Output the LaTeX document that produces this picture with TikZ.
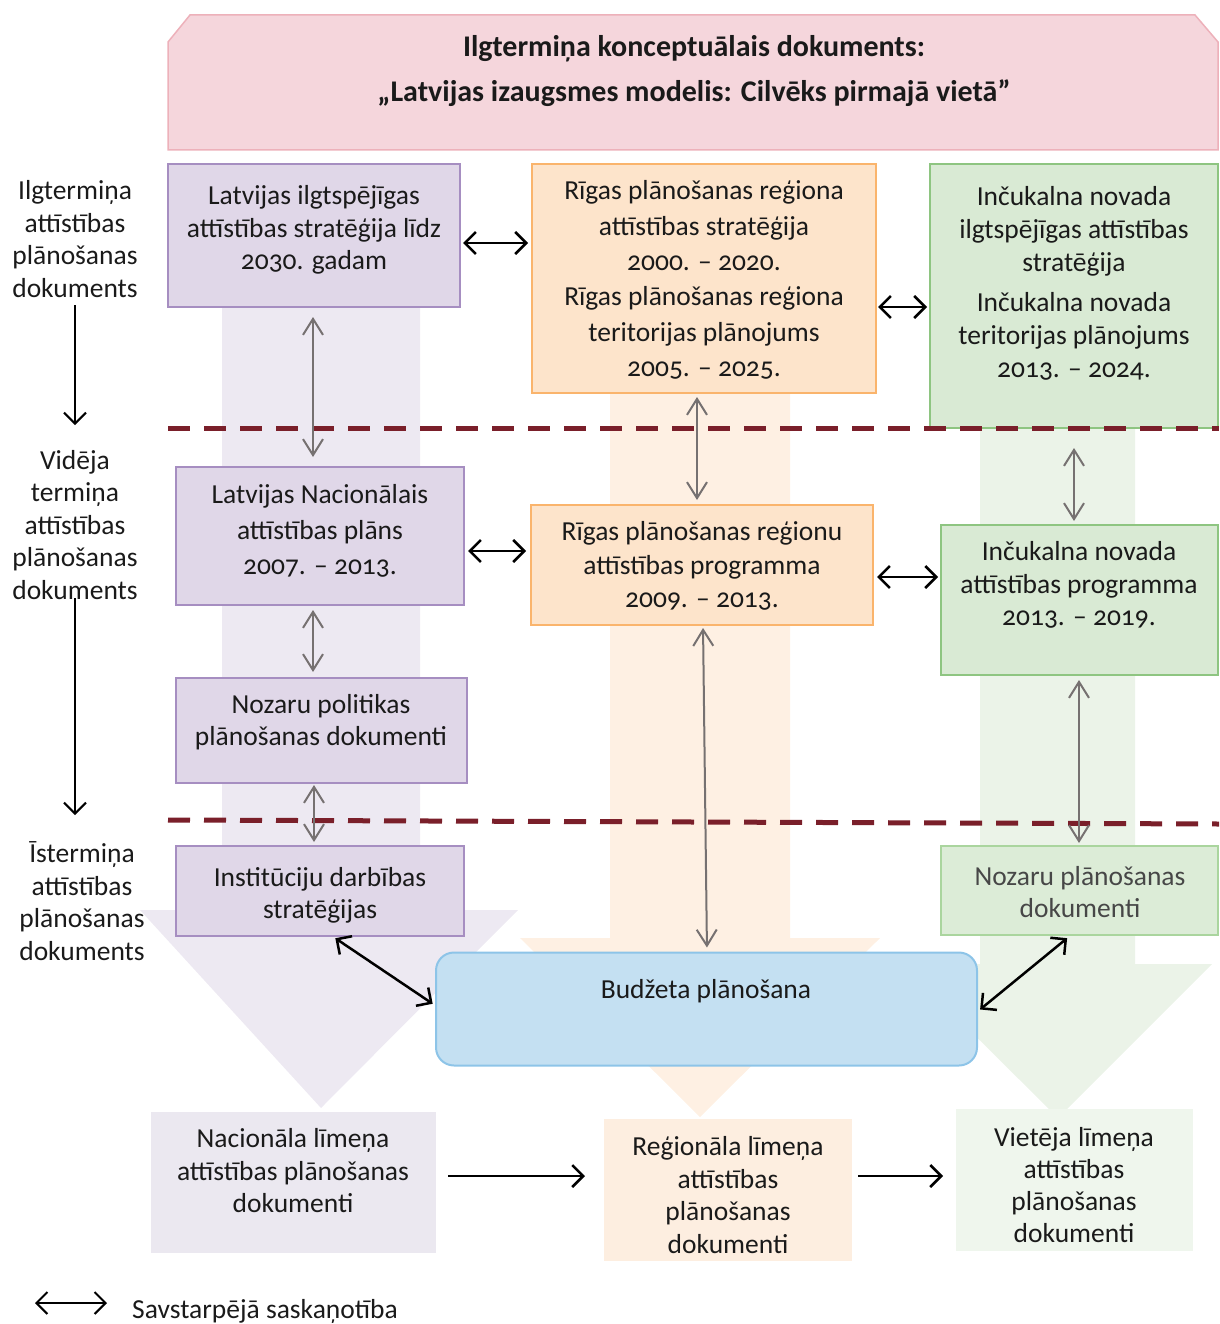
\documentclass[tikz,border=0pt]{standalone}
\usepackage{fontspec}
\setmainfont{Carlito}[Numbers=OldStyle]
\usetikzlibrary{arrows.meta}
\definecolor{pfill}{HTML}{E0D7E8}
\definecolor{pline}{HTML}{A68EC1}
\definecolor{ofill}{HTML}{FDE4CB}
\definecolor{oline}{HTML}{FAB46C}
\definecolor{gfill}{HTML}{D9EAD4}
\definecolor{gline}{HTML}{8EC581}
\definecolor{g3fill}{HTML}{DCECD7}
\definecolor{g3line}{HTML}{AAD59E}
\definecolor{tfill}{HTML}{F5D6DC}
\definecolor{tline}{HTML}{EDB1BA}
\definecolor{bfill}{HTML}{C4E0F2}
\definecolor{bline}{HTML}{8DC4E8}
\definecolor{parrow}{HTML}{EDE9F2}
\definecolor{oarrow}{HTML}{FEF0E3}
\definecolor{garrow}{HTML}{EBF3E8}
\definecolor{nfill}{HTML}{EBE8F0}
\definecolor{rfill}{HTML}{FDEEE0}
\definecolor{vfill}{HTML}{EFF6ED}
\definecolor{dred}{HTML}{7A1F2A}
\definecolor{garr}{HTML}{767171}
\definecolor{txtc}{HTML}{1A1A1A}
\begin{document}
\begin{tikzpicture}[x=1pt,y=-1pt,
  box/.style={line width=2pt, inner sep=0pt, outer sep=0pt},
  pbox/.style={box, draw=pline, fill=pfill},
  obox/.style={box, draw=oline, fill=ofill},
  gbox/.style={box, draw=gline, fill=gfill},
  g3box/.style={box, draw=g3line, fill=g3fill},
  bbox/.style={box, draw=bline, fill=bfill, rounded corners=18pt},
  flat/.style={inner sep=0pt, outer sep=0pt},
  txt/.style={align=center, inner sep=0pt, text=txtc, font=\fontsize{27.5}{33}\selectfont},
  dbl/.style={{Straight Barb[length=11pt,width=22pt]}-{Straight Barb[length=11pt,width=22pt]}, line width=2.5pt, black},
  sgl/.style={-{Straight Barb[length=11pt,width=22pt]}, line width=2.5pt, black},
  gdbl/.style={{Straight Barb[length=16pt,width=20pt]}-{Straight Barb[length=16pt,width=20pt]}, line width=2pt, garr},
  dashline/.style={draw=dred, line width=5pt, dash pattern=on 22pt off 14pt}
]
\useasboundingbox (0,0) rectangle (1219,1324);

% pale background arrows
\fill[parrow] (222,300) -- (420,300) -- (420,910) -- (518,910) -- (321,1108) -- (140,910) -- (222,910) -- cycle;
\fill[oarrow] (610,390) -- (790,390) -- (790,938) -- (880,938) -- (700,1117) -- (520,938) -- (610,938) -- cycle;
\fill[garrow] (980,425) -- (1135,425) -- (1135,964) -- (1212,964) -- (1058,1118) -- (903,964) -- (980,964) -- cycle;

% bottom boxes
\node[flat, fill=nfill, minimum width=285pt, minimum height=141pt] (N) at (293.5,1182.5) {};
\node[flat, fill=rfill, minimum width=248pt, minimum height=142pt] (Rg) at (728,1190) {};
\node[flat, fill=vfill, minimum width=237pt, minimum height=142pt] (V) at (1074.5,1180) {};

% top banner
\draw[line width=1.5pt, draw=tline, fill=tfill] (168,42) -- (190,15) -- (1195,15) -- (1218,42) -- (1218,150) -- (168,150) -- cycle;
\node[txt, font=\bfseries\fontsize{30}{45}\selectfont] (title) at (694,71) {Ilgtermiņa konceptuālais dokuments:\\„Latvijas izaugsmes modelis: Cilvēks pirmajā vietā”};

% boxes
\node[pbox, minimum width=292pt, minimum height=143pt] (L1) at (314,235.5) {};
\node[obox, minimum width=344pt, minimum height=229pt] (R1) at (704,278.5) {};
\node[gbox, minimum width=288pt, minimum height=264pt] (G1) at (1074,296) {};
\node[pbox, minimum width=288pt, minimum height=138pt] (L2) at (320,536) {};
\node[obox, minimum width=342pt, minimum height=120pt] (R2) at (702,565) {};
\node[gbox, minimum width=277pt, minimum height=150pt] (G2) at (1079.5,600) {};
\node[pbox, minimum width=291pt, minimum height=105pt] (L3) at (321.5,730.5) {};
\node[pbox, minimum width=288pt, minimum height=90pt] (L4) at (320,891) {};
\node[g3box, minimum width=277pt, minimum height=89pt] (G3) at (1079.5,890.5) {};
\node[bbox, minimum width=541pt, minimum height=113pt] (B) at (706.5,1009) {};

% texts
\node[txt, font=\fontsize{27.5}{32.5}\selectfont] (tL1) at (314,230) {Latvijas ilgtspējīgas\\attīstības stratēģija līdz\\2030. gadam};
\node[txt, font=\fontsize{27.5}{35.4}\selectfont] (tR1) at (704,280) {Rīgas plānošanas reģiona\\attīstības stratēģija\\2000. – 2020.\\Rīgas plānošanas reģiona\\teritorijas plānojums\\2005. – 2025.};
\node[txt] (tG1) at (1074,283) {Inčukalna novada\\ilgtspējīgas attīstības\\stratēģija\\[7pt]Inčukalna novada\\teritorijas plānojums\\2013. – 2024.};
\node[txt, font=\fontsize{27.5}{35.5}\selectfont] (tL2) at (320,531) {Latvijas Nacionālais\\attīstības plāns\\2007. – 2013.};
\node[txt, font=\fontsize{27.5}{33.5}\selectfont] (tR2) at (702,566) {Rīgas plānošanas reģionu\\attīstības programma\\2009. – 2013.};
\node[txt, font=\fontsize{27.5}{32.5}\selectfont] (tG2) at (1079,585) {Inčukalna novada\\attīstības programma\\2013. – 2019.};
\node[txt, font=\fontsize{27.5}{32}\selectfont] (tL3) at (321,722) {Nozaru politikas\\plānošanas dokumenti};
\node[txt, font=\fontsize{27.5}{32}\selectfont] (tL4) at (320,895) {Institūciju darbības\\stratēģijas};
\node[txt, font=\fontsize{27.5}{32}\selectfont, text=black!72] (tG3) at (1080,892) {Nozaru plānošanas\\dokumenti};
\node[txt] (tB) at (706,991) {Budžeta plānošana};
\node[txt, font=\fontsize{27.5}{32.5}\selectfont] (tN) at (293,1171) {Nacionāla līmeņa\\attīstības plānošanas\\dokumenti};
\node[txt, font=\fontsize{27.5}{32.7}\selectfont] (tRg) at (728,1195) {Reģionāla līmeņa\\attīstības\\plānošanas\\dokumenti};
\node[txt, font=\fontsize{27.5}{32.3}\selectfont] (tV) at (1074,1185) {Vietēja līmeņa\\attīstības\\plānošanas\\dokumenti};

% left labels
\node[txt, font=\fontsize{27.5}{32.7}\selectfont] (lab1) at (75,239) {Ilgtermiņa\\attīstības\\plānošanas\\dokuments};
\node[txt, font=\fontsize{27.5}{32.5}\selectfont] (lab2) at (75,525) {Vidēja\\termiņa\\attīstības\\plānošanas\\dokuments};
\node[txt, font=\fontsize{27.5}{32.7}\selectfont] (lab3) at (82,901) {Īstermiņa\\attīstības\\plānošanas\\dokuments};
\coordinate (a1s) at (75,305);
\coordinate (a1e) at (75,425);
\coordinate (a2s) at (75,598);
\coordinate (a2e) at (75,815);
\draw[sgl, line width=2pt] (a1s) -- (a1e);
\draw[sgl, line width=2pt] (a2s) -- (a2e);

% dashed separators
\coordinate (d1a) at (168,428);
\coordinate (d1b) at (1219,428);
\coordinate (d2a) at (168,820);
\coordinate (d2b) at (1219,824);
\draw[dashline] (d1a) -- (d1b);
\draw[dashline] (d2a) -- (d2b);

% grey vertical connectors
\draw[gdbl, shorten <=10pt, shorten >=10pt] (L1.south -| 313,0) -- (L2.north -| 313,0);
\draw[gdbl, shorten <=5pt, shorten >=6pt] (L2.south -| 313,0) -- (L3.north -| 313,0);
\draw[gdbl, shorten <=2pt, shorten >=4pt] (L3.south -| 314,0) -- (L4.north -| 314,0);
\draw[gdbl, shorten <=4pt, shorten >=5pt] (R1.south -| 697,0) -- (R2.north -| 697,0);
\draw[gdbl, shorten <=3pt, shorten >=5pt] (R2.south -| 703,0) -- (B.north -| 707,0);
\draw[gdbl, shorten <=20pt, shorten >=4pt] (G1.south -| 1074,0) -- (G2.north -| 1074,0);
\draw[gdbl, shorten <=5pt, shorten >=3pt] (G2.south -| 1079,0) -- (G3.north -| 1079,0);

% black coordination arrows
\draw[dbl, shorten <=3pt, shorten >=4pt] (L1.east |- 0,243) -- (R1.west |- 0,243);
\draw[dbl, shorten <=2pt, shorten >=3pt] (R1.east |- 0,307) -- (G1.west |- 0,307);
\draw[dbl, shorten <=4pt, shorten >=5pt] (L2.east |- 0,551) -- (R2.west |- 0,551);
\draw[dbl, shorten <=4pt, shorten >=3pt] (R2.east |- 0,577) -- (G2.west |- 0,577);
\draw[dbl, shorten <=4pt, shorten >=4pt] (L4.south -| 332,0) -- (B.west |- 0,1006);
\draw[dbl, shorten <=4pt, shorten >=5pt] (B.east |- 0,1012) -- (G3.south -| 1071,0);

% bottom flow arrows
\draw[sgl, shorten <=12pt, shorten >=19pt] (N.east |- 0,1176) -- (Rg.west |- 0,1176);
\draw[sgl, shorten <=6pt, shorten >=13pt] (Rg.east |- 0,1176) -- (V.west |- 0,1176);

% legend
\coordinate (lg1) at (35,1303);
\coordinate (lg2) at (107,1303);
\draw[dbl, line width=2pt] (lg1) -- (lg2);
\node[txt, anchor=west] (lgt) at (132,1311) {Savstarpējā saskaņotība};
\end{tikzpicture}
\end{document}
